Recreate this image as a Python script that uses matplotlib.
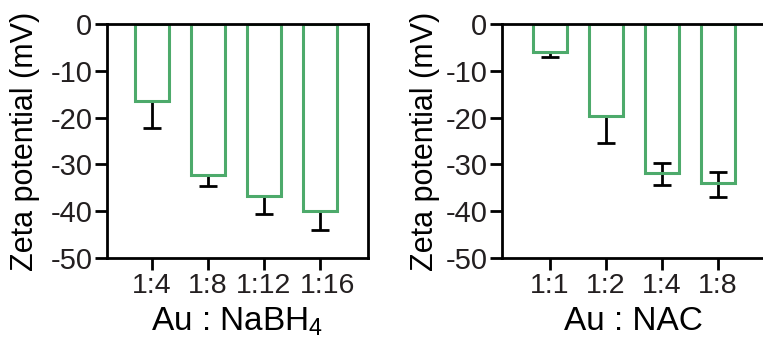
import matplotlib
matplotlib.use("Agg")
import matplotlib.pyplot as plt
import matplotlib.transforms as mtransforms
import numpy as np

plt.rcParams['font.family'] = ['Liberation Sans', 'DejaVu Sans']
plt.rcParams['mathtext.default'] = 'regular'
plt.rcParams['axes.unicode_minus'] = False

# left panel: Au : NaBH4
nabh4_labels = ["1:4", "1:8", "1:12", "1:16"]
nabh4_zeta = [-16.5, -32.3, -36.7, -39.9]
nabh4_err_low = [5.8, 2.3, 3.9, 4.1]
nabh4_err_up = [0, 0, 0, 0]

# right panel: Au : NAC
nac_labels = ["1:1", "1:2", "1:4", "1:8"]
nac_zeta = [-5.9, -19.6, -31.8, -34.0]
nac_err_low = [1.1, 5.9, 2.7, 2.9]
nac_err_up = [0, 0, 2.2, 2.4]

green = '#4DAA6B'
txt = '#231F20'

fig = plt.figure(figsize=(7.63, 3.38), dpi=100)
ax1 = fig.add_axes([107/763, 80/338, 261/763, 234/338])
ax2 = fig.add_axes([502/763, 80/338, 262/763, 234/338])

def panel(ax, labels, vals, lo, up, xlab, xlim, ylab_x):
    loc = np.arange(len(labels))
    ax.errorbar(loc, vals, yerr=[lo, up], fmt='none', ecolor='black',
                elinewidth=2.0, capsize=6.5, capthick=2.0, zorder=3)
    ax.bar(loc, vals, 0.6, facecolor='none', edgecolor=green,
           linewidth=2.2, zorder=4)
    ax.set_ylim(-50, 0)
    ax.set_xlim(*xlim)
    ax.set_yticks([0, -10, -20, -30, -40, -50])
    ax.set_xticks(loc)
    ax.set_xticklabels(labels)
    for s in ax.spines.values():
        s.set_linewidth(2.0)
        s.set_zorder(5)
    ax.tick_params(axis='both', length=8.5, width=2.0, labelsize=21,
                   labelcolor=txt, pad=2)
    ax.tick_params(axis='x', labelsize=20.5)
    ax.set_ylabel('Zeta potential (mV)', fontsize=22)
    ax.yaxis.set_label_coords(ylab_x, 0.5)
    ax.set_xlabel(xlab, fontsize=24, labelpad=5)

panel(ax1, nabh4_labels, nabh4_zeta, nabh4_err_low, nabh4_err_up,
      r'Au : NaBH$_4$', (-0.8, 3.857), -0.255)
panel(ax2, nac_labels, nac_zeta, nac_err_low, nac_err_up,
      'Au : NAC', (-0.857, 3.82), -0.235)

# last label on the left panel sits a bit right of its tick
lab = ax1.get_xticklabels()[-1]
lab.set_transform(lab.get_transform() +
                  mtransforms.ScaledTranslation(0.08, 0, fig.dpi_scale_trans))

fig.savefig('out.png', dpi=100)
